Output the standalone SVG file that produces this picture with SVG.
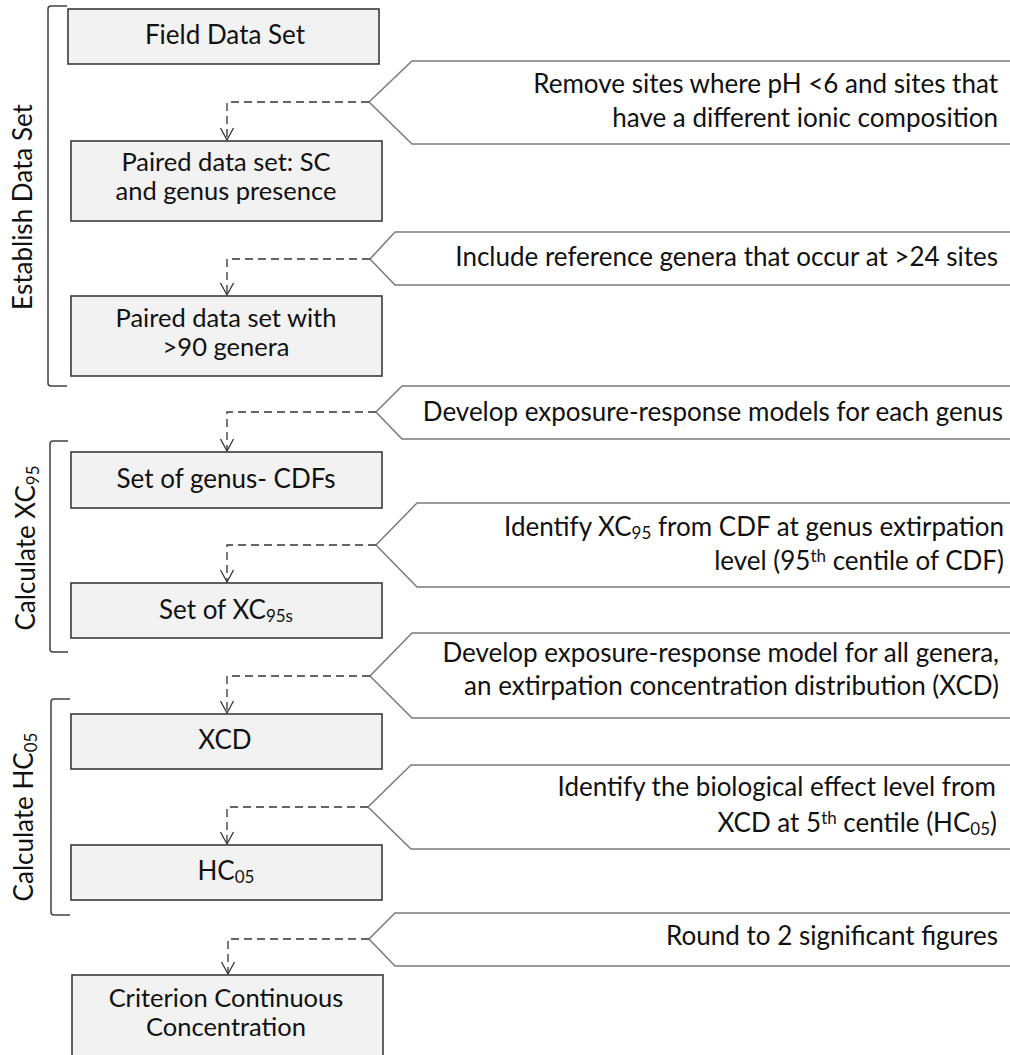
<svg xmlns="http://www.w3.org/2000/svg" width="1010" height="1055" viewBox="0 0 1010 1055">
<style>
.box{fill:#f2f2f2;stroke:#3a3a3a;stroke-width:1.6}
.call{fill:#ffffff;stroke:#7a7a7a;stroke-width:1.5}
.br{fill:none;stroke:#404040;stroke-width:1.5;stroke-linejoin:round}
.t{font-family:Lato,"Open Sans","Liberation Sans",sans-serif;font-size:26px;fill:#111111}
.t2{font-size:25.5px}
.bt{text-anchor:middle}
.ct{text-anchor:end}
.lab{font-family:Lato,"Open Sans","Liberation Sans",sans-serif;font-size:26px;fill:#111111;text-anchor:middle}
.sub{font-size:17px}
.con{fill:none;stroke:#333;stroke-width:1.3;stroke-dasharray:8 5}
</style>
<defs>
<marker id="arr" markerUnits="userSpaceOnUse" markerWidth="16" markerHeight="16" viewBox="-14 -8 16 16" refX="0" refY="0" orient="auto">
<path d="M-12,-6.5 L0,0 L-12,6.5" fill="none" stroke="#333" stroke-width="1.3"/>
</marker>
</defs>
<rect width="1010" height="1055" fill="#ffffff"/>

<g id="brackets">
<g id="bracket-establish">
<path class="br" d="M67,6 H51 Q48,6 48,9 V383 Q48,386 51,386 H67"/>
<text class="lab" transform="translate(32,207) rotate(-90)">Establish Data Set</text>
</g>
<g id="bracket-xc95">
<path class="br" d="M68,441 H53 Q50,441 50,444 V649 Q50,652 53,652 H68"/>
<text class="lab" transform="translate(35,548) rotate(-90)">Calculate XC<tspan class="sub" baseline-shift="-22%">95</tspan></text>
</g>
<g id="bracket-hc05">
<path class="br" d="M70,699 H54 Q51,699 51,702 V912 Q51,915 54,915 H70"/>
<text class="lab" transform="translate(33,817) rotate(-90)">Calculate HC<tspan class="sub" baseline-shift="-22%">05</tspan></text>
</g>
</g>

<g id="callouts">
<g id="callout-1">
<polygon class="call" points="1013,61 412,61 369,102 412,144 1013,144"/>
<text class="t ct" x="998" y="93">Remove sites where pH &lt;6 and sites that</text>
<text class="t ct" x="998" y="127">have a different ionic composition</text>
</g>
<g id="callout-2">
<polygon class="call" points="1013,232 395,232 370,259 395,285 1013,285"/>
<text class="t ct" x="998" y="266">Include reference genera that occur at &gt;24 sites</text>
</g>
<g id="callout-3">
<polygon class="call" points="1013,386 402,386 376,412 402,439 1013,439"/>
<text class="t ct" x="1003" y="421">Develop exposure-response models for each genus</text>
</g>
<g id="callout-4">
<polygon class="call" points="1013,503 417,503 376,545 417,587 1013,587"/>
<text class="t ct" x="1004" y="536">Identify XC<tspan class="sub" baseline-shift="-20%">95</tspan> from CDF at genus extirpation</text>
<text class="t ct" x="1004" y="570">level (95<tspan class="sub" baseline-shift="45%">th</tspan> centile of CDF)</text>
</g>
<g id="callout-5">
<polygon class="call" points="1013,633 412,633 370,676 412,718 1013,718"/>
<text class="t ct" x="999" y="662">Develop exposure-response model for all genera,</text>
<text class="t ct" x="999" y="695">an extirpation concentration distribution (XCD)</text>
</g>
<g id="callout-6">
<polygon class="call" points="1013,765 411,765 368,807 411,849 1013,849"/>
<text class="t ct" x="996" y="796">Identify the biological effect level from</text>
<text class="t ct" x="997" y="832">XCD at 5<tspan class="sub" baseline-shift="45%">th</tspan> centile (HC<tspan class="sub" baseline-shift="-20%">05</tspan>)</text>
</g>
<g id="callout-7">
<polygon class="call" points="1013,913 395,913 369,939 395,966 1013,966"/>
<text class="t ct" x="998" y="945">Round to 2 significant figures</text>
</g>
</g>

<g id="connectors">
<polyline class="con" points="369,102 227,102 227,140" marker-end="url(#arr)"/>
<polyline class="con" points="370,259 227,259 227,295" marker-end="url(#arr)"/>
<polyline class="con" points="376,412 227,412 227,451" marker-end="url(#arr)"/>
<polyline class="con" points="376,545 227,545 227,582" marker-end="url(#arr)"/>
<polyline class="con" points="370,676 227,676 227,713" marker-end="url(#arr)"/>
<polyline class="con" points="368,807 227,807 227,844" marker-end="url(#arr)"/>
<polyline class="con" points="369,939 228,939 228,974" marker-end="url(#arr)"/>
</g>

<g id="node-field">
<rect class="box" x="68" y="9" width="311" height="55"/>
<text class="t bt" x="225" y="44">Field Data Set</text>
</g>
<g id="node-paired">
<rect class="box" x="71" y="141" width="311" height="80"/>
<text class="t t2 bt" x="226" y="171">Paired data set: SC</text>
<text class="t t2 bt" x="226" y="200">and genus presence</text>
</g>
<g id="node-paired90">
<rect class="box" x="71" y="296" width="311" height="80"/>
<text class="t t2 bt" x="226" y="327">Paired data set with</text>
<text class="t t2 bt" x="226" y="356">&gt;90 genera</text>
</g>
<g id="node-cdfs">
<rect class="box" x="71" y="452" width="311" height="56"/>
<text class="t bt" x="226" y="488">Set of genus- CDFs</text>
</g>
<g id="node-xc95s">
<rect class="box" x="71" y="583" width="311" height="55"/>
<text class="t bt" x="226" y="619">Set of XC<tspan class="sub" baseline-shift="-20%">95s</tspan></text>
</g>
<g id="node-xcd">
<rect class="box" x="71" y="714" width="311" height="55"/>
<text class="t bt" x="225" y="749">XCD</text>
</g>
<g id="node-hc05">
<rect class="box" x="71" y="845" width="311" height="55"/>
<text class="t bt" x="226" y="880">HC<tspan class="sub" baseline-shift="-20%">05</tspan></text>
</g>
<g id="node-ccc">
<rect class="box" x="72" y="975" width="311" height="100"/>
<text class="t t2 bt" x="226" y="1007">Criterion Continuous</text>
<text class="t t2 bt" x="226" y="1036">Concentration</text>
</g>
</svg>
